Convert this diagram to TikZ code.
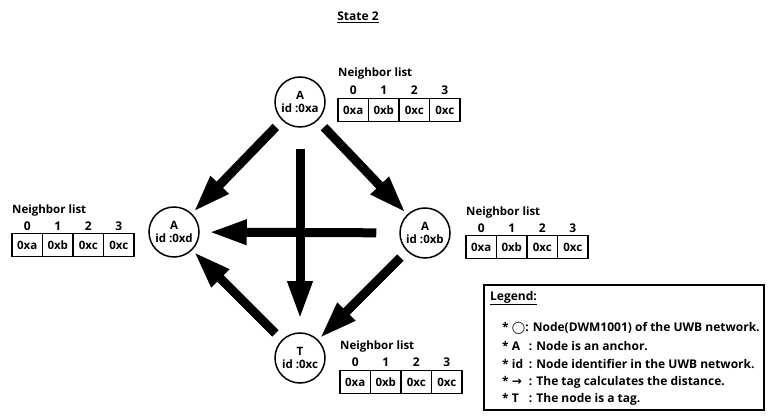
\documentclass[tikz,border=0pt]{standalone}
\usepackage{fontspec}
\setmainfont{Open Sans}
\newfontfamily\symfont{DejaVu Sans}
\usepackage{tikz}
\usetikzlibrary{arrows.meta}

\tikzset{
  uwbnode/.style={circle, draw, line width=1.5pt, minimum size=50pt, inner sep=0pt,
    align=center, font=\bfseries\fontsize{11.5}{13}\selectfont},
  nbcell/.style={draw, line width=1.5pt, minimum width=30.5pt, minimum height=23pt,
    inner sep=0pt, font=\bfseries\fontsize{11.5}{13}\selectfont},
  nbindex/.style={inner sep=0pt, font=\bfseries\fontsize{12}{13}\selectfont},
  nbtitle/.style={anchor=west, inner sep=0pt, font=\bfseries\fontsize{11.5}{13}\selectfont},
  bigarrow/.style={line width=9pt, -{Triangle[width=23pt,length=38pt]}},
  legendline/.style={anchor=west, inner sep=0pt, font=\bfseries\fontsize{12}{13}\selectfont}
}

\begin{document}
\begin{tikzpicture}[x=1pt, y=-1pt]
  \useasboundingbox (0,0) rectangle (771,419);

  % Title
  \node[nbindex] (title) at (358,17) {\underline{State 2}};

  % Nodes
  \node[uwbnode] (na) at (300,102) {A\\id :0xa};
  \node[uwbnode] (nd) at (174,232) {A\\id :0xd};
  \node[uwbnode] (nb) at (425,233) {A\\id :0xb};
  \node[uwbnode] (nt) at (300,358) {T\\id :0xc};

  % Neighbor lists
  \node[nbtitle] (tlist) at (338,74) {Neighbor list};
  \foreach \v [count=\i from 0] in {0xa,0xb,0xc,0xc} {
    \node[nbcell] (tcell\i) at (353.25+30.5*\i,110) {\v};
    \node[nbindex] (tidx\i) at (353.25+30.5*\i,90) {\i};
  }
  \node[nbtitle] (llist) at (12,211) {Neighbor list};
  \foreach \v [count=\i from 0] in {0xa,0xb,0xc,0xc} {
    \node[nbcell] (lcell\i) at (27.25+30.5*\i,245) {\v};
    \node[nbindex] (lidx\i) at (27.25+30.5*\i,226) {\i};
  }
  \node[nbtitle] (rlist) at (466,213) {Neighbor list};
  \foreach \v [count=\i from 0] in {0xa,0xb,0xc,0xc} {
    \node[nbcell] (rcell\i) at (481.25+30.5*\i,247) {\v};
    \node[nbindex] (ridx\i) at (481.25+30.5*\i,228) {\i};
  }
  \node[nbtitle] (blist) at (340,347) {Neighbor list};
  \foreach \v [count=\i from 0] in {0xa,0xb,0xc,0xc} {
    \node[nbcell] (bcell\i) at (355.25+30.5*\i,382) {\v};
    \node[nbindex] (bidx\i) at (355.25+30.5*\i,362) {\i};
  }

  % Edges
  \draw[bigarrow, shorten <=9pt, shorten >=2pt] (na) -- (nd);
  \draw[bigarrow, shorten <=9pt, shorten >=2pt] (na) -- (nb);
  \draw[bigarrow, shorten <=21pt, shorten >=13pt] (na) -- (nt);
  \draw[bigarrow, shorten <=23pt, shorten >=9pt] (nb) -- (nd);
  \draw[bigarrow, shorten <=9pt, shorten >=2pt] (nb) -- (nt);
  \draw[bigarrow, shorten <=9pt, shorten >=2pt] (nt) -- (nd);

  % Legend
  \draw[line width=1.5pt] (484,285) rectangle (764,410);
  \node[legendline] (lgtitle) at (490,298) {\underline{Legend:}};
  \node[legendline] (lg1) at (502,328) {* {\symfont ◯}: Node(DWM1001) of the UWB network.};
  \node[legendline] (lg2) at (502,346) {* \makebox[17pt][l]{A}: Node is an anchor.};
  \node[legendline] (lg3) at (502,364) {* \makebox[17pt][l]{id}: Node identifier in the UWB network.};
  \node[legendline] (lg4) at (502,382) {* \makebox[17pt][l]{\symfont →}: The tag calculates the distance.};
  \node[legendline] (lg5) at (502,399) {* \makebox[17pt][l]{T}: The node is a tag.};
\end{tikzpicture}
\end{document}
